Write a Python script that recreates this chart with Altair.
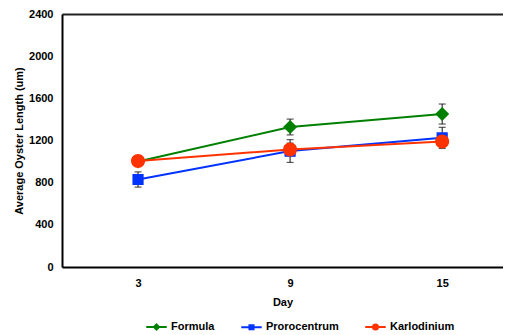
import altair as alt
import pandas as pd

days = [3, 9, 15]
series_names = ["Formula", "Prorocentrum", "Karlodinium"]
formula = [1000, 1328, 1451]
formula_err = [30, 75, 95]
proro = [830, 1100, 1225]
proro_err = [72, 108, 100]
karlo = [1005, 1115, 1190]
karlo_err = [40, 60, 40]

colors = ["#008000", "#0033FF", "#FF3300"]
marker_area = 3136
# custom symbol paths: a stroke-only segment (visible only in the legend) + filled marker
shapes = [
    "M-1,0H1M0,-0.25L0.25,0L0,0.25L-0.25,0Z",
    "M-1,0H1M-0.2,-0.2H0.2V0.2H-0.2Z",
    "M-1,0H1M0.25,0A0.25,0.25,0,1,1,-0.25,0A0.25,0.25,0,1,1,0.25,0Z",
]

rows = []
for name, col, vals, errs in [("Formula", colors[0], formula, formula_err),
                              ("Prorocentrum", colors[1], proro, proro_err),
                              ("Karlodinium", colors[2], karlo, karlo_err)]:
    for d, v, e in zip(days, vals, errs):
        rows.append({"day": d, "series": name, "col": col, "sz": marker_area,
                     "value": v, "lo": v - e, "hi": v + e})
df = pd.DataFrame(rows)

FONT = "Liberation Sans"

x_scale = alt.Scale(domain=[0, 17.4], nice=False, zero=False)
y_scale = alt.Scale(domain=[0, 2400], nice=False)

bottom_axis = alt.Axis(values=days, title="Day", grid=False, ticks=False, tickSize=0,
                       domainColor="black", domainWidth=2, labelPadding=10, titlePadding=8,
                       labelFont=FONT, labelFontWeight="bold", labelFontSize=11, labelColor="black",
                       titleFont=FONT, titleFontWeight="bold", titleFontSize=11, titleColor="black")
top_axis = alt.Axis(orient="top", labels=False, ticks=False, title=None, grid=False,
                    domainColor="#222222", domainWidth=2)
y_axis = alt.Axis(values=[0, 400, 800, 1200, 1600, 2000, 2400], title="Average Oyster Length (um)",
                  format="d", grid=False, ticks=False, tickSize=0, domainColor="black", domainWidth=2,
                  labelPadding=9, titlePadding=4,
                  labelFont=FONT, labelFontWeight="bold", labelFontSize=11, labelColor="black",
                  titleFont=FONT, titleFontWeight="bold", titleFontSize=11, titleColor="black")

lines = alt.Chart(df).mark_line(strokeWidth=2).encode(
    x=alt.X("day:Q", scale=x_scale, axis=top_axis),
    y=alt.Y("value:Q", scale=y_scale, axis=y_axis),
    color=alt.Color("col:N", scale=None),
    detail="series:N",
)

err = alt.Chart(df).mark_rule(color="#111111", strokeWidth=1).encode(
    x=alt.X("day:Q", scale=x_scale, axis=bottom_axis),
    y=alt.Y("lo:Q", scale=y_scale, axis=y_axis),
    y2="hi:Q",
)
cap_lo = alt.Chart(df).mark_tick(color="#111111", orient="horizontal", size=7, thickness=1.2).encode(
    x=alt.X("day:Q", scale=x_scale, axis=None),
    y=alt.Y("lo:Q", scale=y_scale, axis=y_axis),
)
cap_hi = alt.Chart(df).mark_tick(color="#111111", orient="horizontal", size=7, thickness=1.2).encode(
    x=alt.X("day:Q", scale=x_scale, axis=None),
    y=alt.Y("hi:Q", scale=y_scale, axis=y_axis),
)

legend = alt.Legend(title=None, orient="none", direction="horizontal", legendX=83, legendY=301,
                    symbolSize=420, symbolStrokeWidth=2, columnPadding=22, labelOffset=3,
                    labelFont=FONT, labelFontWeight="bold", labelFontSize=11, labelColor="black")

points = alt.Chart(df).mark_point(filled=True, opacity=1).encode(
    x=alt.X("day:Q", scale=x_scale, axis=None),
    y=alt.Y("value:Q", scale=y_scale, axis=y_axis),
    fill=alt.Fill("series:N", scale=alt.Scale(domain=series_names, range=colors), legend=legend),
    stroke=alt.Stroke("series:N", scale=alt.Scale(domain=series_names, range=colors), legend=legend),
    shape=alt.Shape("series:N", scale=alt.Scale(domain=series_names, range=shapes), legend=legend),
    size=alt.Size("sz:Q", scale=None),
    strokeWidth=alt.value(0),
    order=alt.Order("order:Q"),
).transform_calculate(order="indexof(['Formula','Prorocentrum','Karlodinium'], datum.series)")

chart = alt.layer(lines, err, cap_lo, cap_hi, points).resolve_axis(x="independent").properties(
    width=441, height=253, padding={"left": 5, "top": 0, "right": 0, "bottom": 0}
).configure_view(stroke=None)

chart.save("out.html", embed_options={"renderer": "svg", "actions": False})
